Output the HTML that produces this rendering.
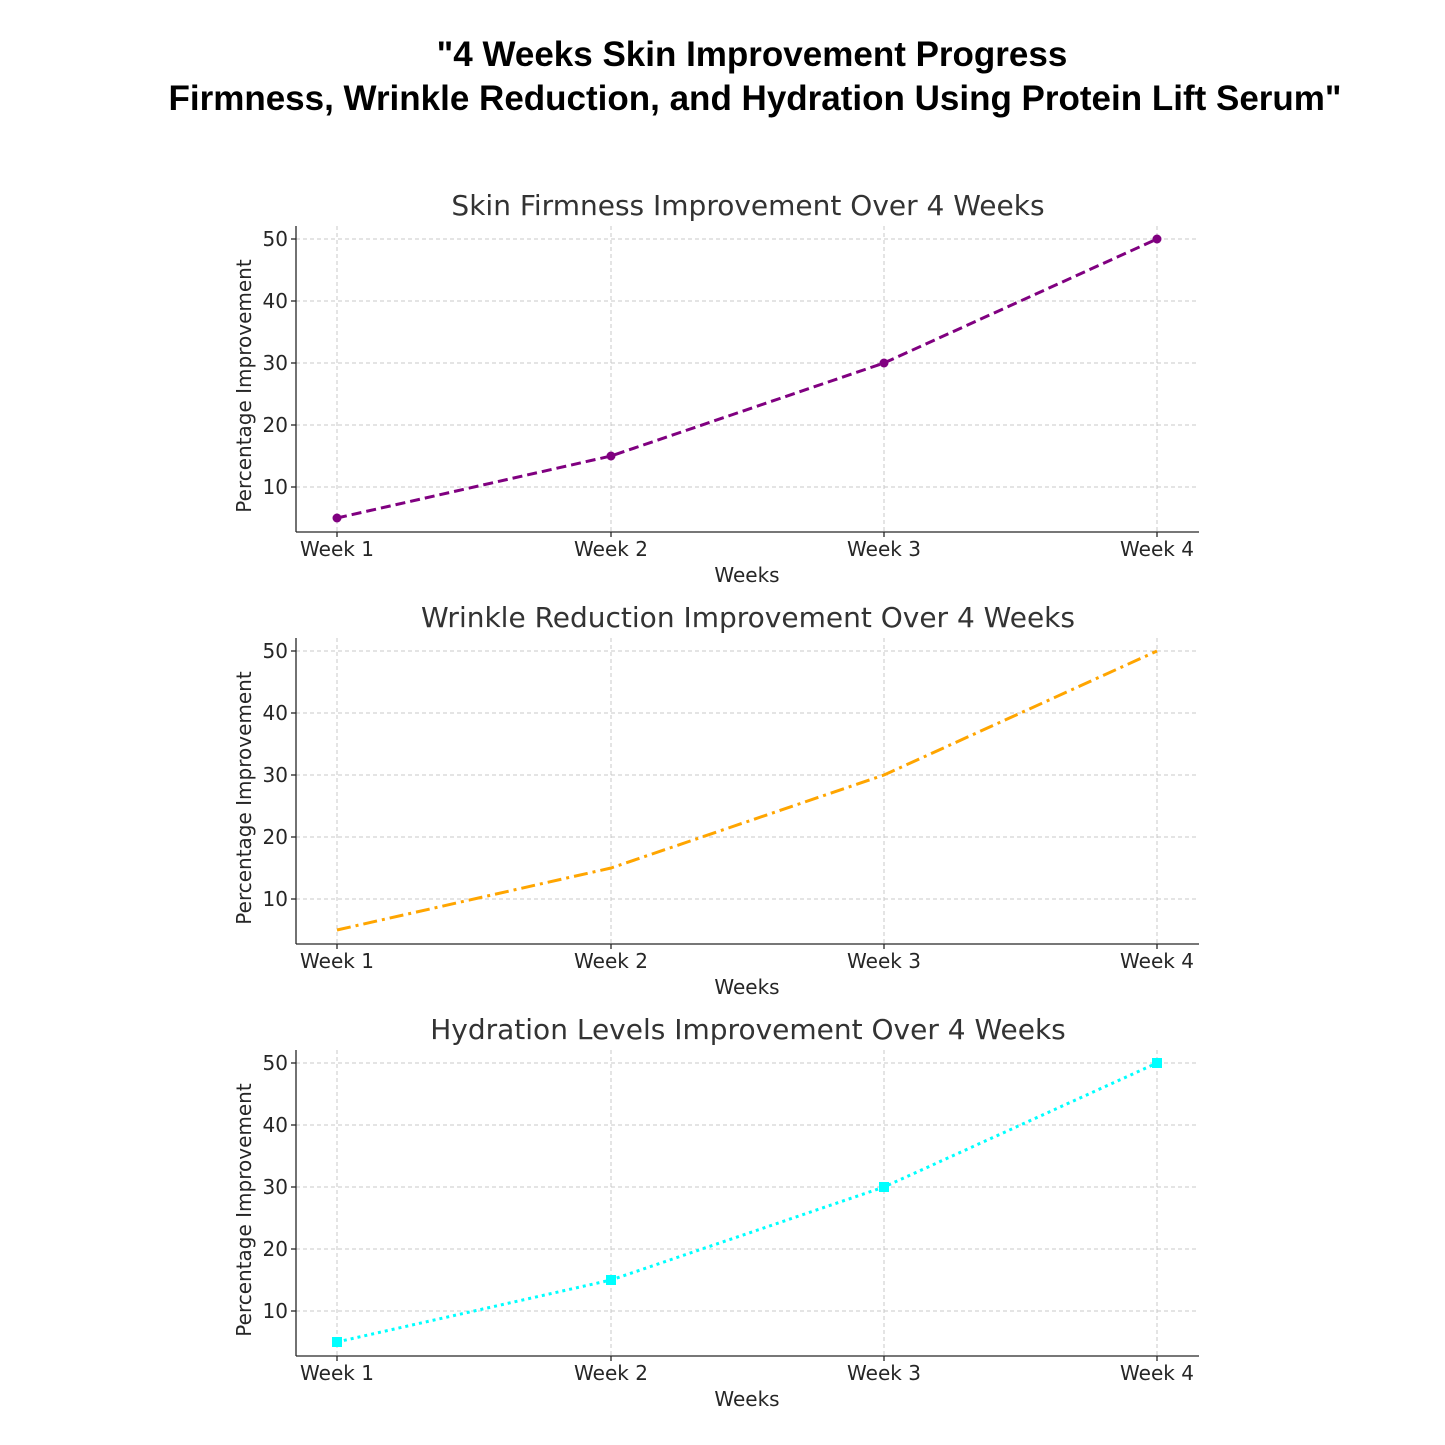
<!DOCTYPE html>
<html><head><meta charset="utf-8"><style>
body{margin:0;background:#fff;}
svg{display:block;}
text{font-family:"DejaVu Sans","Liberation Sans",sans-serif;fill:#262626;}
</style></head><body>
<svg width="1445" height="1445" viewBox="0 0 1445 1445" xmlns="http://www.w3.org/2000/svg">
<rect width="1445" height="1445" fill="#fff"/>
<text x="752" y="66" text-anchor="middle" style="font-family:'Liberation Sans',sans-serif;font-weight:bold;font-size:35px;fill:#000">"4 Weeks Skin Improvement Progress</text>
<text x="755" y="110" text-anchor="middle" style="font-family:'Liberation Sans',sans-serif;font-weight:bold;font-size:35px;fill:#000">Firmness, Wrinkle Reduction, and Hydration Using Protein Lift Serum"</text>

<defs>
<g id="axes">
  <g stroke="#c8c8c8" stroke-width="1" stroke-dasharray="4,3">
    <line x1="337" y1="226" x2="337" y2="532"/>
    <line x1="611" y1="226" x2="611" y2="532"/>
    <line x1="884" y1="226" x2="884" y2="532"/>
    <line x1="1157" y1="226" x2="1157" y2="532"/>
    <line x1="296" y1="239" x2="1199" y2="239"/>
    <line x1="296" y1="301" x2="1199" y2="301"/>
    <line x1="296" y1="363" x2="1199" y2="363"/>
    <line x1="296" y1="425" x2="1199" y2="425"/>
    <line x1="296" y1="487" x2="1199" y2="487"/>
  </g>
  <g stroke="#262626" stroke-width="1.3">
    <line x1="296" y1="226" x2="296" y2="532"/>
    <line x1="296" y1="532" x2="1199" y2="532"/>
    <line x1="291" y1="239" x2="296" y2="239"/>
    <line x1="291" y1="301" x2="296" y2="301"/>
    <line x1="291" y1="363" x2="296" y2="363"/>
    <line x1="291" y1="425" x2="296" y2="425"/>
    <line x1="291" y1="487" x2="296" y2="487"/>
    <line x1="337" y1="532" x2="337" y2="537"/>
    <line x1="611" y1="532" x2="611" y2="537"/>
    <line x1="884" y1="532" x2="884" y2="537"/>
    <line x1="1157" y1="532" x2="1157" y2="537"/>
  </g>
  <g font-size="20" text-anchor="end">
    <text x="288" y="246">50</text>
    <text x="288" y="308">40</text>
    <text x="288" y="370">30</text>
    <text x="288" y="432">20</text>
    <text x="288" y="494">10</text>
  </g>
  <g font-size="20" text-anchor="middle">
    <text x="337" y="556">Week 1</text>
    <text x="611" y="556">Week 2</text>
    <text x="884" y="556">Week 3</text>
    <text x="1157" y="556">Week 4</text>
    <text x="747" y="582">Weeks</text>
  </g>
  <text font-size="20" text-anchor="middle" transform="translate(251,386) rotate(-90)">Percentage Improvement</text>
</g>
</defs>

<use href="#axes"/>
<text x="748" y="215" font-size="28" text-anchor="middle" style="fill:#333">Skin Firmness Improvement Over 4 Weeks</text>
<polyline points="337,518 611,456 884,363 1157,239" fill="none" stroke="#800080" stroke-width="3" stroke-dasharray="10,5"/>
<g fill="#800080"><circle cx="337" cy="518" r="4.5"/><circle cx="611" cy="456" r="4.5"/><circle cx="884" cy="363" r="4.5"/><circle cx="1157" cy="239" r="4.5"/></g>

<g transform="translate(0,412)">
<use href="#axes"/>
<text x="748" y="215" font-size="28" text-anchor="middle" style="fill:#333">Wrinkle Reduction Improvement Over 4 Weeks</text>
<polyline points="337,518 611,456 884,363 1157,239" fill="none" stroke="#ffa500" stroke-width="3" stroke-dasharray="14,5,3,5"/>
</g>

<g transform="translate(0,824)">
<use href="#axes"/>
<text x="748" y="215" font-size="28" text-anchor="middle" style="fill:#333">Hydration Levels Improvement Over 4 Weeks</text>
<polyline points="337,518 611,456 884,363 1157,239" fill="none" stroke="#00ffff" stroke-width="3" stroke-dasharray="3,4"/>
<g fill="#00ffff"><rect x="332" y="513" width="10" height="10"/><rect x="606" y="451" width="10" height="10"/><rect x="879" y="358" width="10" height="10"/><rect x="1152" y="234" width="10" height="10"/></g>
</g>
</svg>
</body></html>
